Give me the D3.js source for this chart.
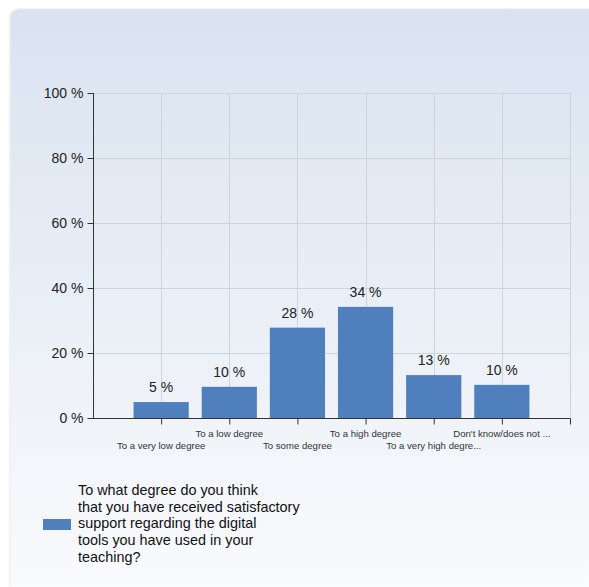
<!DOCTYPE html>
<html><head><meta charset="utf-8">
<script src="https://cdn.jsdelivr.net/npm/d3@7"></script>
<style>html,body{margin:0;padding:0;background:#fff;}svg{display:block;font-family:Arial,"Liberation Sans",sans-serif;}</style>
</head><body>
<svg id="c" width="589" height="587"></svg>
<script>
const categories = ["To a very low degree","To a low degree","To some degree","To a high degree","To a very high degre...","Don't know/does not ..."];
const values = [4.9, 9.6, 27.8, 34.2, 13.2, 10.2];
const yTicks = [0, 20, 40, 60, 80, 100];
const legendLines = ["To what degree do you think","that you have received satisfactory","support regarding the digital","tools you have used in your","teaching?"];

const svg = d3.select("#c");
const defs = svg.append("defs");
const g = defs.append("linearGradient").attr("id","bg").attr("x1",0).attr("y1",0).attr("x2",0).attr("y2",1);
g.append("stop").attr("offset","0%").attr("stop-color","#d9e3f0");
g.append("stop").attr("offset","100%").attr("stop-color","#fafbfd");
const sh = defs.append("filter").attr("id","sh").attr("x","-5%").attr("y","-5%").attr("width","110%").attr("height","110%");
sh.append("feGaussianBlur").attr("in","SourceAlpha").attr("stdDeviation",1.2);
sh.append("feOffset").attr("dx",0).attr("dy",0).attr("result","b");
sh.append("feComponentTransfer").append("feFuncA").attr("type","linear").attr("slope",0.25);
const m = sh.append("feMerge"); m.append("feMergeNode"); m.append("feMergeNode").attr("in","SourceGraphic");

svg.append("rect").attr("x",10.5).attr("y",9.5).attr("width",590).attr("height",590).attr("rx",8)
  .attr("fill","url(#bg)").attr("filter","url(#sh)");

const x = d3.scaleLinear().domain([0, 7]).range([93, 570]);
const y = d3.scaleLinear().domain([0, 100]).range([418, 93]);

// grid
svg.append("g").selectAll("line.h").data(yTicks.filter(d=>d>0)).join("line")
  .attr("x1",x(0)).attr("x2",x(7)).attr("y1",d=>Math.round(y(d))+0.5).attr("y2",d=>Math.round(y(d))+0.5)
  .attr("stroke","#cdd4de").attr("stroke-width",1);
svg.append("g").selectAll("line.v").data(d3.range(1,8)).join("line")
  .attr("y1",y(0)).attr("y2",y(100)).attr("x1",d=>Math.round(x(d))+0.5).attr("x2",d=>Math.round(x(d))+0.5)
  .attr("stroke","#cdd4de").attr("stroke-width",1);

// bars
const bw = 0.81;
svg.append("g").selectAll("rect").data(values).join("rect")
  .attr("x",(d,i)=>x(i+1-bw/2)).attr("width",x(bw)-x(0))
  .attr("y",d=>y(d)).attr("height",d=>y(0)-y(d))
  .attr("fill","#4f80bd");

// value labels
svg.append("g").selectAll("text").data(values).join("text")
  .attr("x",(d,i)=>x(i+1)).attr("y",d=>y(d)-10)
  .attr("text-anchor","middle").attr("font-size",14).attr("fill","#222")
  .text(d=>Math.round(d)+" %");

// y axis
const yAxis = d3.axisLeft(y).tickValues(yTicks).tickSize(6).tickPadding(4).tickFormat(d=>d+" %");
const ya = svg.append("g").attr("transform","translate(93.5,0)").call(yAxis);
ya.select(".domain").attr("d","M0,"+y(100)+"V"+(y(0)+0.5)).attr("stroke","#333");
ya.selectAll(".tick line").attr("stroke","#333");
ya.selectAll(".tick text").attr("font-size",14).attr("fill","#222").attr("font-family","Arial, 'Liberation Sans', sans-serif");

// x axis
const xAxis = d3.axisBottom(x).tickValues(d3.range(1,8)).tickSize(6).tickFormat("");
const xa = svg.append("g").attr("transform","translate(0,418.5)").call(xAxis);
xa.select(".domain").attr("d","M"+x(0)+",0H"+(x(7)+0.5)).attr("stroke","#333");
xa.selectAll(".tick line").attr("stroke","#333");

svg.append("g").selectAll("text").data(categories).join("text")
  .attr("x",(d,i)=>x(i+1)).attr("y",(d,i)=> i%2===0 ? 449 : 437)
  .attr("text-anchor","middle").attr("font-size",9.6).attr("fill","#333")
  .text(d=>d);

// legend
svg.append("rect").attr("x",43).attr("y",519).attr("width",28).attr("height",11).attr("fill","#4f80bd");
svg.append("g").selectAll("text").data(legendLines).join("text")
  .attr("x",78).attr("y",(d,i)=>495+i*16.67)
  .attr("font-size",14.4).attr("fill","#111").text(d=>d);
</script>
</body></html>
